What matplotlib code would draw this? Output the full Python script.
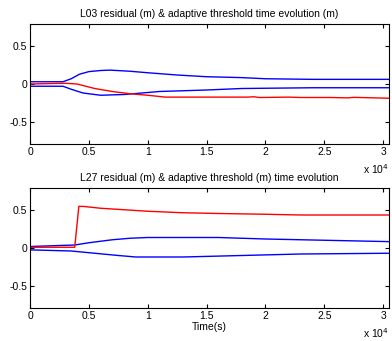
import numpy as np
import matplotlib
matplotlib.use("Agg")
import matplotlib.pyplot as plt

plt.rcParams['font.family'] = ['Liberation Sans', 'DejaVu Sans']

# --- L03 (top) ---
t_top_hi = [0, 2800, 3500, 4200, 5000, 6000, 6800, 8500, 10000, 12500, 15000, 18000, 20000, 24000, 30500]
hi_top = [0.03, 0.03, 0.07, 0.13, 0.165, 0.18, 0.185, 0.17, 0.15, 0.12, 0.097, 0.085, 0.07, 0.062, 0.062]
t_top_lo = [0, 2800, 3500, 4500, 6000, 8000, 11000, 15000, 18000, 24000, 30500]
lo_top = [-0.03, -0.03, -0.07, -0.12, -0.15, -0.14, -0.1, -0.08, -0.06, -0.05, -0.05]
t_top_res = [0, 3000, 4000, 5500, 7000, 8500, 10000, 11500, 18500, 19000, 19500, 22000, 23000, 25500, 27000, 27500, 30500]
res_top = [0.0, 0.01, 0.0, -0.06, -0.1, -0.13, -0.15, -0.175, -0.175, -0.17, -0.18, -0.175, -0.18, -0.18, -0.185, -0.178, -0.19]

# --- L27 (bottom) ---
t_bot_hi = [0, 3800, 5000, 7000, 8500, 10000, 16000, 20000, 23000, 30500]
hi_bot = [0.02, 0.04, 0.07, 0.11, 0.13, 0.14, 0.14, 0.12, 0.11, 0.085]
t_bot_lo = [0, 3500, 5500, 7500, 9000, 13000, 18000, 23000, 30500]
lo_bot = [-0.025, -0.04, -0.07, -0.1, -0.12, -0.12, -0.1, -0.08, -0.07]
t_bot_res = [0, 3800, 4150, 4500, 6000, 9000, 10000, 13000, 16000, 20000, 23000, 30500]
res_bot = [0.01, 0.01, 0.555, 0.555, 0.53, 0.5, 0.49, 0.47, 0.46, 0.45, 0.44, 0.44]

titles = ["L03 residual (m) & adaptive threshold time evolution (m)",
          "L27 residual (m) & adaptive threshold (m) time evolution"]

fig = plt.figure(figsize=(3.92, 3.41), dpi=100)
ax1 = fig.add_axes([30/392, 1 - 144/341, 359/392, 120/341])
ax2 = fig.add_axes([30/392, 1 - 308/341, 359/392, 120/341])

panels = [(ax1, t_top_hi, hi_top, t_top_lo, lo_top, t_top_res, res_top),
          (ax2, t_bot_hi, hi_bot, t_bot_lo, lo_bot, t_bot_res, res_bot)]

for i, (ax, th, h, tl, l, tr, r) in enumerate(panels):
    ax.plot(th, h, color='blue', linewidth=1.0)
    ax.plot(tl, l, color='blue', linewidth=1.0)
    ax.plot(tr, r, color='red', linewidth=1.0)
    ax.set_xlim(0, 30500)
    ax.set_ylim(-0.8, 0.8)
    ax.set_xticks([0, 5000, 10000, 15000, 20000, 25000, 30000])
    ax.set_xticklabels(['0', '0.5', '1', '1.5', '2', '2.5', '3'])
    ax.set_yticks([-0.5, 0, 0.5])
    ax.set_yticklabels(['-0.5', '0', '0.5'])
    ax.tick_params(direction='in', length=3, labelsize=7.5, top=True, right=True, pad=2)
    ax.set_title(titles[i], fontsize=7.5, pad=5)
    for s in ax.spines.values():
        s.set_linewidth(0.8)
    ax.text(1.0, -0.21, r'x 10$^4$', transform=ax.transAxes, fontsize=7.5, ha='right', va='center')

ax2.set_xlabel('Time(s)', fontsize=7.5, labelpad=1)

fig.savefig('out.png', dpi=100)
